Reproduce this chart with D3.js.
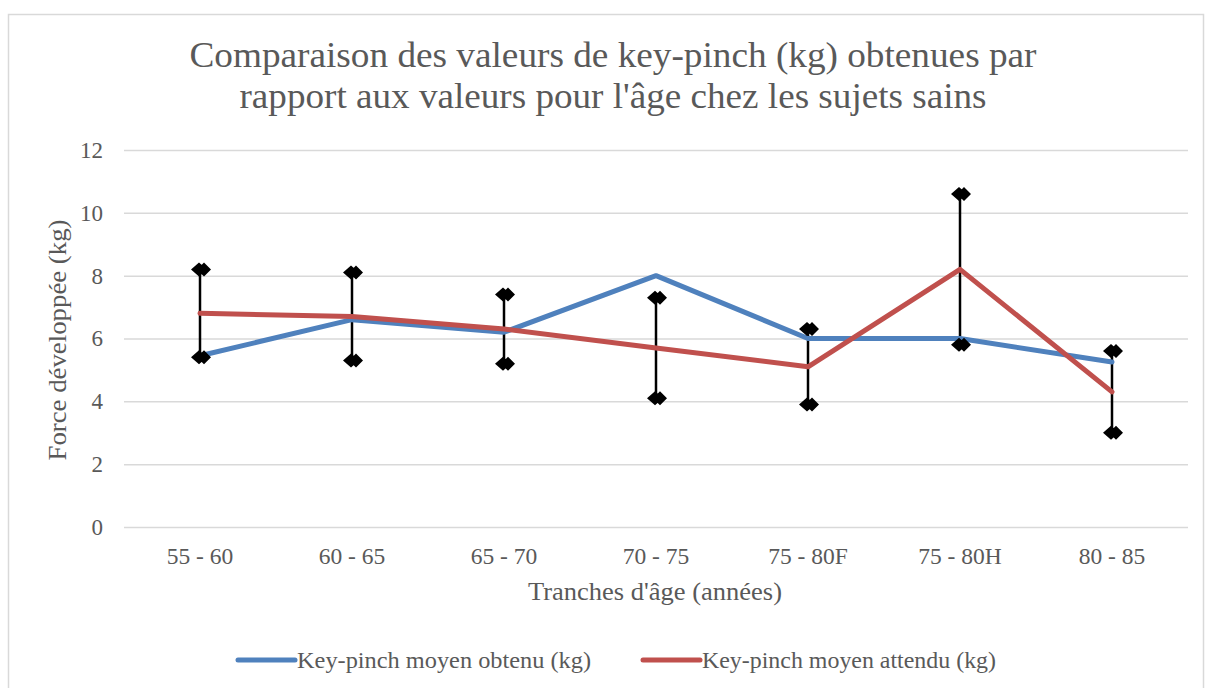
<!DOCTYPE html>
<html>
<head>
    <meta charset="utf-8">
    <title>Key-pinch</title>
    <script src="https://cdn.jsdelivr.net/npm/d3@7/dist/d3.min.js"></script>
    <style>
        body { margin: 0; background: #fff; }
        text { font-family: "Liberation Serif", "Times New Roman", serif; fill: #595959; }
    </style>
</head>
<body>
    <svg width="1206" height="688" id="mainsvg"></svg>
    <script>
        const categories = ['55 - 60', '60 - 65', '65 - 70', '70 - 75', '75 - 80F', '75 - 80H', '80 - 85'];
        const obtenu = [5.45, 6.6, 6.2, 8.0, 6.0, 6.0, 5.25];
        const attendu = [6.8, 6.7, 6.3, 5.7, 5.1, 8.2, 4.3];
        const high = [8.2, 8.1, 7.4, 7.3, 6.3, 10.6, 5.6];
        const low = [5.4, 5.3, 5.2, 4.1, 3.9, 5.8, 3.0];
        const yTicks = [0, 2, 4, 6, 8, 10, 12];
        const titleLines = ["Comparaison des valeurs de key-pinch (kg) obtenues par", "rapport aux valeurs pour l'âge chez les sujets sains"];
        const seriesNames = ['Key-pinch moyen obtenu (kg)', 'Key-pinch moyen attendu (kg)'];
        const seriesColors = ['#4F81BD', '#C0504D'];

        const svg = d3.select('svg');
        const width = +svg.attr('width');
        const margin = {left: 124, right: 18, top: 150, bottom: 161};
        const plotH = 688 - margin.top - margin.bottom;

        // chart frame
        svg.append('rect').attr('x', 8.5).attr('y', 14.5).attr('width', 1195).attr('height', 700)
            .attr('fill', 'none').attr('stroke', '#D9D9D9').attr('stroke-width', 1.5);

        const x = d3.scaleBand().domain(categories).range([margin.left, width - margin.right]);
        const y = d3.scaleLinear().domain([0, 12]).range([margin.top + plotH, margin.top]);
        const cx = c => x(c) + x.bandwidth() / 2;

        // title (widths)
        const titleW = [847, 747];
        svg.selectAll('.title').data(titleLines).join('text').attr('class', 'title')
            .attr('x', 613).attr('y', (d, i) => 67 + i * 41).attr('text-anchor', 'middle')
            .style('font-size', '35px')
            .attr('textLength', (d, i) => titleW[i]).attr('lengthAdjust', 'spacingAndGlyphs')
            .text(d => d);

        // grid + y labels
        const yAxis = svg.append('g').attr('transform', `translate(${margin.left},0)`)
            .call(d3.axisLeft(y).tickValues(yTicks).tickSize(-(width - margin.left - margin.right)).tickPadding(21));
        yAxis.select('.domain').remove();
        yAxis.selectAll('.tick line').attr('stroke', '#D9D9D9').attr('stroke-width', 1.5);
        yAxis.selectAll('.tick text').style('font-size', '23px').attr('fill', '#595959')
            .style('font-family', '"Liberation Serif", serif');

        // x labels
        const xAxis = svg.append('g').attr('transform', `translate(0,${y(0)})`)
            .call(d3.axisBottom(x).tickSize(0).tickPadding(20));
        xAxis.select('.domain').remove();
        xAxis.selectAll('.tick text').style('font-size', '23.5px').attr('fill', '#595959')
            .style('font-family', '"Liberation Serif", serif');

        // axis titles
        svg.append('text').attr('x', 655).attr('y', 600).attr('text-anchor', 'middle')
            .style('font-size', '26px').attr('textLength', 254).attr('lengthAdjust', 'spacingAndGlyphs')
            .text("Tranches d'âge (années)");
        svg.append('text').attr('transform', 'translate(66,340) rotate(-90)').attr('text-anchor', 'middle')
            .style('font-size', '26px').attr('textLength', 241).attr('lengthAdjust', 'spacingAndGlyphs')
            .text('Force développée (kg)');

        // high-low lines
        svg.selectAll('.hl').data(categories).join('line').attr('class', 'hl')
            .attr('x1', cx).attr('x2', cx)
            .attr('y1', (d, i) => y(high[i])).attr('y2', (d, i) => y(low[i]))
            .attr('stroke', '#000').attr('stroke-width', 2.5);

        // series lines
        const line = d3.line().x((d, i) => cx(categories[i])).y(d => y(d));
        [obtenu, attendu].forEach((s, k) => {
            svg.append('path').datum(s).attr('d', line).attr('fill', 'none')
                .attr('stroke', seriesColors[k]).attr('stroke-width', 5)
                .attr('stroke-linejoin', 'round').attr('stroke-linecap', 'round');
        });

        // diamond markers (high and low)
        const diamond = 'M-8,0 L0,-7 L8,0 L0,7 Z M-2,0 L5,-7 L12,0 L5,7 Z';
        const marks = [];
        categories.forEach((c, i) => { marks.push({c, v: high[i]}); marks.push({c, v: low[i]}); });
        svg.selectAll('.mk').data(marks).join('path').attr('class', 'mk')
            .attr('transform', d => `translate(${cx(d.c) - 1},${y(d.v)})`)
            .attr('d', diamond).attr('fill', '#000');

        // legend
        const legendX = [238, 643];
        const lg = svg.selectAll('.lg').data(seriesNames).join('g').attr('class', 'lg')
            .attr('transform', (d, i) => `translate(${legendX[i]},660)`);
        lg.append('line').attr('x1', 0).attr('x2', 57).attr('stroke', (d, i) => seriesColors[i])
            .attr('stroke-width', 5).attr('stroke-linecap', 'round');
        lg.append('text').attr('x', 59).attr('y', 8).style('font-size', '24px')
            .attr('textLength', 294).attr('lengthAdjust', 'spacingAndGlyphs').text(d => d);
    </script>
</body>
</html>
